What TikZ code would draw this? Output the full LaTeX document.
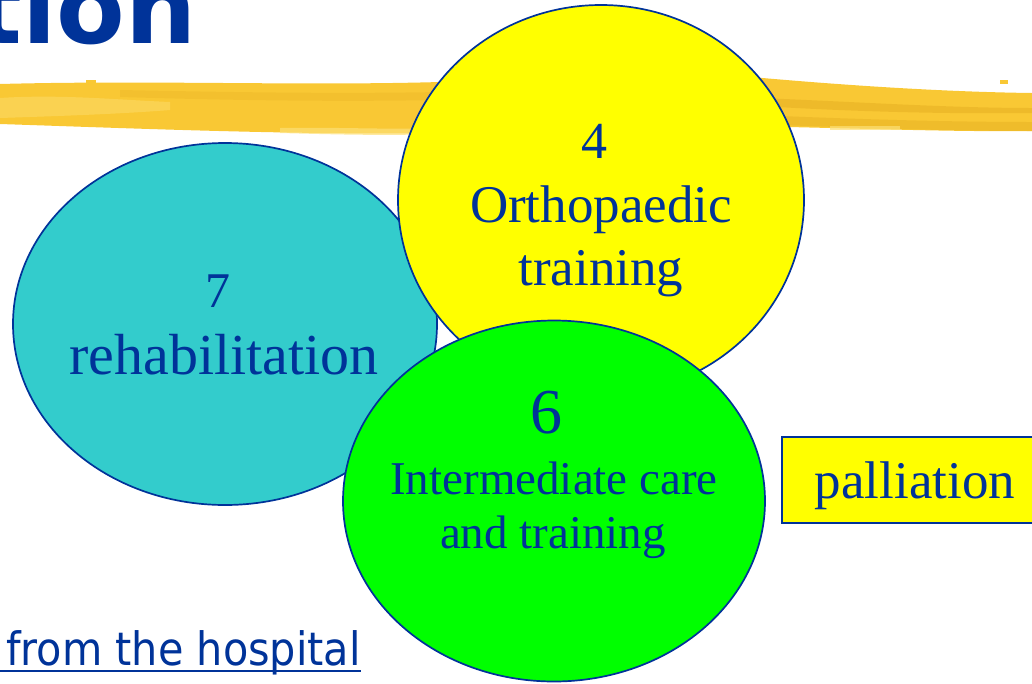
\documentclass[tikz,border=0pt]{standalone}
\usepackage{fontspec}
\setmainfont{Liberation Serif}
\newfontfamily\headfont{DejaVu Sans}
\newfontfamily\linkfont[FakeStretch=0.9]{DejaVu Sans}
\usetikzlibrary{shapes.geometric}

\definecolor{navy}{RGB}{0,51,153}
\definecolor{aqua}{RGB}{51,204,204}
\definecolor{lemon}{RGB}{255,255,0}
\definecolor{lime}{RGB}{0,255,0}
\definecolor{brush}{RGB}{249,200,52}
\definecolor{brushlight}{RGB}{253,224,118}
\definecolor{brushdark}{RGB}{226,170,30}

\tikzset{
  bubble/.style={ellipse, draw=navy, line width=1.7pt, inner sep=0pt},
  boxed/.style={rectangle, draw=navy, line width=1.7pt, fill=lemon, inner sep=0pt},
  lbl/.style={text=navy, inner sep=0pt, anchor=base},
}

\begin{document}
\begin{tikzpicture}[x=1pt,y=-1pt]
\useasboundingbox (0,0) rectangle (1032,683);
\clip (0,0) rectangle (1032,683);

%% heading and brush stroke
\node[lbl, anchor=base east, font=\headfont\bfseries\fontsize{100}{100}\selectfont] (title) at (197,43) {tion};
\fill[brush] (0,84) .. controls (150,80) and (300,86) .. (440,82) -- (440,133) .. controls (300,135) and (150,129) .. (0,124) -- cycle; % left part
\fill[brushlight, opacity=.45] (0,98) .. controls (60,94) and (120,100) .. (170,102) -- (170,110) .. controls (120,114) and (60,116) .. (0,118) -- cycle; % pale streak
\fill[brushdark, opacity=.25] (120,90) .. controls (220,92) and (330,94) .. (440,92) -- (440,100) .. controls (330,102) and (220,100) .. (120,97) -- cycle; % dark streak
\fill[brushlight, opacity=.7] (280,128) .. controls (340,127) and (400,130) .. (440,128) -- (440,134) .. controls (380,136) and (320,134) .. (280,133) -- cycle; % pale lower edge
\fill[brush] (740,76) .. controls (850,86) and (950,92) .. (1032,93) -- (1032,131) .. controls (950,132) and (850,128) .. (740,126) -- cycle; % right part
\fill[brushdark, opacity=.45] (760,98) .. controls (860,102) and (950,108) .. (1032,108) -- (1032,113) .. controls (950,114) and (860,112) .. (760,106) -- cycle; % dark streak
\fill[brushdark, opacity=.4] (780,116) .. controls (880,120) and (960,122) .. (1032,122) -- (1032,131) .. controls (950,131) and (860,128) .. (780,125) -- cycle; % orange underside
\fill[brushlight, opacity=.7] (830,126) rectangle (900,130); % pale fleck
\fill[brush] (1000,80) rectangle (1008,84); % fleck
\fill[brush] (86,80) rectangle (96,84); % fleck

%% ellipses
\node[bubble, fill=aqua, minimum width=424pt, minimum height=362pt] (rehab) at (225,324) {};
\node[bubble, fill=lemon, minimum width=406pt, minimum height=390pt] (ortho) at (601,200) {};
\node[bubble, fill=lime, minimum width=422pt, minimum height=361pt] (care) at (554,501) {};
\node[boxed, anchor=north west, minimum width=280pt, minimum height=86pt] (pall) at (781,436) {};

%% labeling
\node[lbl, font=\fontsize{50}{50}\selectfont] (rehabnum) at (218,307) {7};
\node[lbl, font=\fontsize{58}{58}\selectfont] (rehabtxt) at (224,374) {rehabilitation};
\node[lbl, font=\fontsize{52}{52}\selectfont] (orthonum) at (594,158) {4};
\node[lbl, font=\fontsize{53}{53}\selectfont] (orthotxt) at (601,222) {Orthopaedic};
\node[lbl, font=\fontsize{53}{53}\selectfont] (orthotxt2) at (601,285) {training};
\node[lbl, font=\fontsize{64}{64}\selectfont] (carenum) at (546,433) {6};
\node[lbl, font=\fontsize{47}{47}\selectfont] (caretxt) at (554,494) {Intermediate care};
\node[lbl, font=\fontsize{47}{47}\selectfont] (caretxt2) at (553,548) {and training};
\node[lbl, font=\fontsize{53}{53}\selectfont] (palltxt) at (915,498) {palliation};

%% link at the bottom
\node[lbl, anchor=base west, font=\linkfont\fontsize{46}{46}\selectfont] (hosp) at (6,665) {from the hospital};
\draw[navy, line width=2.6pt] ([yshift=-6pt]hosp.base west -| 0,0) -- ([yshift=-6pt]hosp.base east); % underline

\end{tikzpicture}
\end{document}
